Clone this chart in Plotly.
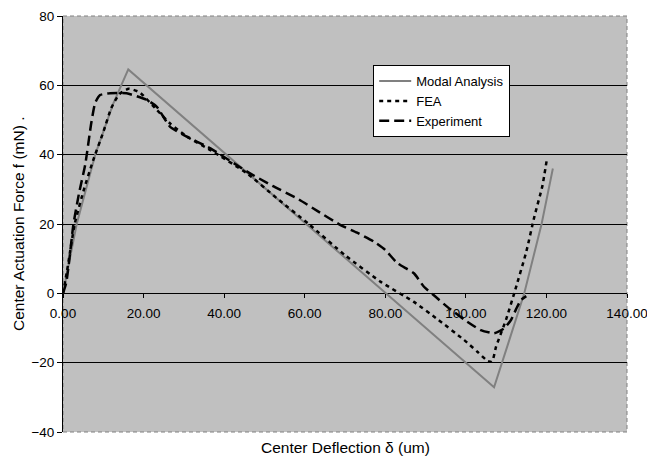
import plotly.graph_objects as go

# Modal Analysis
modal_x = [0, 3.4, 8.0, 12.5, 16.2, 107.0, 110.5, 114.5, 118.8, 121.6]
modal_y = [0, 20, 40, 54.8, 64.6, -27.1, -14.5, 0, 20, 36]

# FEA
fea_x = [0, 1.0, 2.9, 5.2, 7.5, 10.0, 12.0, 14.0, 16.3, 19.0, 23.3, 26.6, 31.0, 36.6, 45.7,
         53.0, 61.0, 70.0, 78.9, 87.0, 93.0, 99.6, 103.0, 105.4, 106.5, 107.5, 110.0, 112.0,
         115.0, 117.0, 119.0, 120.1]
fea_y = [0, 6.5, 20, 30, 38.4, 46.5, 53.5, 57.5, 59.0, 58.0, 52.9, 49.0, 45.0, 41.3, 34.6,
         27.5, 20, 11.0, 3.3, -2.4, -7.5, -13.5, -17.0, -19.5, -19.7, -15.4, -7.5, 0,
         12.0, 22.1, 31.0, 38.6]

# Experiment
exp_x = [0, 0.8, 1.5, 2.6, 4.0, 5.5, 7.0, 8.0, 9.2, 11.7, 15.8, 20.8, 23.3, 26.6, 29.9, 36.6,
         45.7, 52.0, 58.1, 63.5, 68.9, 73.0, 77.2, 80.0, 83.0, 87.1, 89.6, 92.5, 95.4, 99.5,
         103.7, 107.0, 109.5, 111.2, 112.5, 113.7, 115.0]
exp_y = [0, 3.0, 9.0, 20, 29, 37.0, 49.0, 55.0, 57.2, 57.7, 57.7, 55.8, 53.8, 48.0, 45.7, 41.8,
         35.1, 31.0, 27.4, 23.5, 19.7, 17.5, 14.9, 12.5, 8.7, 5.8, 1.9, -1.0, -3.9, -7.5,
         -10.6, -11.5, -10.1, -7.7, -4.5, -1.9, -0.8]

x_ticks = [0, 20, 40, 60, 80, 100, 120, 140]
y_ticks = [-40, -20, 0, 20, 40, 60, 80]

FONT = "Liberation Sans, Arial, sans-serif"

fig = go.Figure()
fig.add_trace(go.Scatter(x=modal_x, y=modal_y, mode="lines", name="Modal Analysis",
                         line=dict(color="#808080", width=2)))
fig.add_trace(go.Scatter(x=fea_x, y=fea_y, mode="lines", name="FEA",
                         line=dict(color="#000000", width=2.5, dash="4px,4px",
                                   shape="spline", smoothing=0.5)))
fig.add_trace(go.Scatter(x=exp_x, y=exp_y, mode="lines", name="Experiment",
                         line=dict(color="#000000", width=2.5, dash="10px,5px",
                                   shape="spline", smoothing=0.5)))

fig.update_layout(
    width=647, height=461,
    margin=dict(l=63, r=20, t=16, b=29, autoexpand=False),
    paper_bgcolor="white",
    plot_bgcolor="#c0c0c0",
    font=dict(family=FONT, size=13.5, color="#000000"),
    showlegend=True,
    legend=dict(x=0.55, y=0.882, xanchor="left", yanchor="top",
                bgcolor="white", bordercolor="black", borderwidth=1,
                font=dict(family=FONT, size=13), tracegroupgap=0,
                itemwidth=32),
    xaxis=dict(range=[0, 140], tickvals=x_ticks, tickformat=".2f",
               anchor="free", position=1/3, showgrid=False, zeroline=False,
               showline=False, ticks="outside", ticklen=4, tickcolor="black",
               ticklabelstandoff=3, ticklabeloverflow="allow", automargin=False,
               tickfont=dict(family=FONT, size=13.5)),
    yaxis=dict(range=[-40, 80], tickvals=y_ticks, domain=[0, 1],
               showgrid=True, gridcolor="#000000", gridwidth=1,
               zeroline=True, zerolinecolor="#000000", zerolinewidth=1,
               showline=True, linecolor="#000000", linewidth=1,
               ticks="outside", ticklen=5, tickcolor="black", automargin=False,
               ticklabeloverflow="allow",
               tickfont=dict(family=FONT, size=13.5)),
    shapes=[dict(type="rect", xref="paper", yref="paper", x0=0, x1=1, y0=0, y1=1,
                 line=dict(color="#808080", width=1, dash="4px,3px"), layer="below")],
    annotations=[
        dict(text="Center Deflection δ (um)", xref="paper", yref="paper",
             x=0.5, y=0, yshift=-15, xanchor="center", yanchor="middle",
             showarrow=False, font=dict(family=FONT, size=15.5)),
        dict(text="Center Actuation Force f (mN) .", xref="paper", yref="paper",
             x=0, y=0.5, xshift=-45, xanchor="center", yanchor="middle",
             textangle=-90, showarrow=False, font=dict(family=FONT, size=15.5)),
    ],
)

fig.write_html("out.html", config={"displayModeBar": False},
               post_script="document.body.style.margin='0';document.body.style.overflow='hidden';")
